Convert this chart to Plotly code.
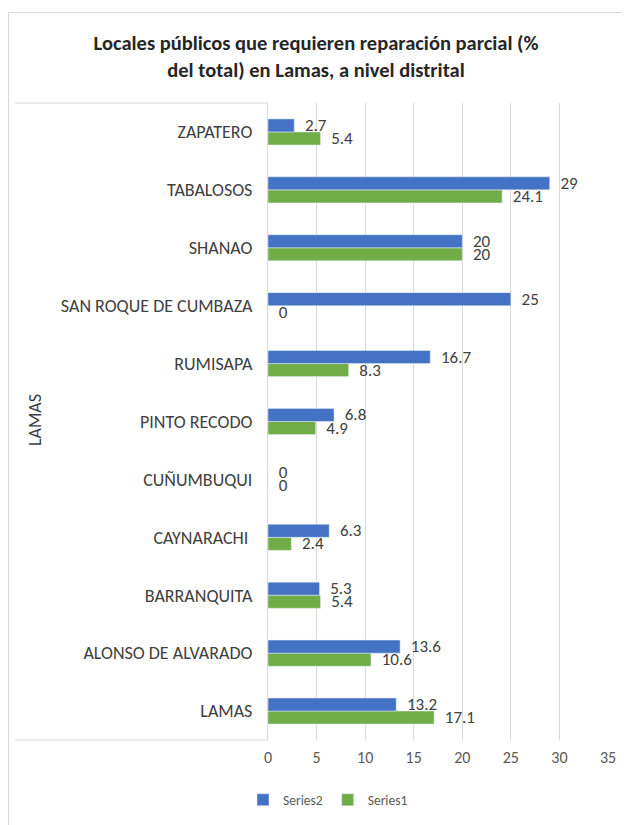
import plotly.graph_objects as go

categories = ["LAMAS", "ALONSO DE ALVARADO", "BARRANQUITA", "CAYNARACHI ", "CUÑUMBUQUI",
              "PINTO RECODO", "RUMISAPA", "SAN ROQUE DE CUMBAZA", "SHANAO", "TABALOSOS", "ZAPATERO"]
series1 = [17.1, 10.6, 5.4, 2.4, 0, 4.9, 8.3, 0, 20, 24.1, 5.4]
series2 = [13.2, 13.6, 5.3, 6.3, 0, 6.8, 16.7, 25, 20, 29, 2.7]
x_ticks = [0, 5, 10, 15, 20, 25, 30, 35]

OFF = 8  # page body margin
W, H = 630 - OFF, 825 - OFF
L, R, T, B = 268 - OFF, 22, 103 - OFF, 825 - 740
PW, PH = W - L - R, H - T - B

def px(x):
    return (x - OFF - L) / PW

def py(y):
    return (H - B - (y - OFF)) / PH

def cx(x):
    return (x - OFF) / W

def cy(y):
    return 1 - (y - OFF) / H

FONT = "Calibri, Carlito, Lato, sans-serif"
PAD = "\u00a0\u00a0"

fig = go.Figure()
fig.add_trace(go.Bar(
    y=categories, x=series1, name="Series1", orientation="h",
    marker=dict(color="#70AD47"),
    text=[PAD + f"{v:g}" for v in series1], textposition="outside", cliponaxis=False,
    textfont=dict(size=17, color="#404040", family=FONT),
))
fig.add_trace(go.Bar(
    y=categories, x=series2, name="Series2", orientation="h",
    marker=dict(color="#4472C4"),
    text=[PAD + f"{v:g}" for v in series2], textposition="outside", cliponaxis=False,
    textfont=dict(size=17, color="#404040", family=FONT),
))

fig.update_layout(
    width=W, height=H,
    margin=dict(l=L, r=R, t=T, b=B, autoexpand=False),
    paper_bgcolor="white", plot_bgcolor="white",
    barmode="group", bargap=0.55, bargroupgap=0,
    font=dict(family=FONT, color="#595959", size=16),
    uniformtext=dict(minsize=17, mode="show"),
    title=dict(
        text="<b>Locales públicos que requieren reparación parcial (%<br>del total) en Lamas, a nivel distrital</b>",
        x=cx(316), xref="container", xanchor="center",
        y=cy(50), yref="container", yanchor="middle",
        font=dict(size=20.5, color="#262626", family=FONT),
    ),
    xaxis=dict(
        range=[0, 35], tickvals=x_ticks, showgrid=True, gridcolor="#D9D9D9", gridwidth=1,
        zeroline=False, showline=False, ticks="", tickfont=dict(size=16, color="#595959"),
        fixedrange=True, ticklabelstandoff=6,
    ),
    yaxis=dict(
        type="category", categoryorder="array", categoryarray=categories,
        showline=True, linecolor="#D9D9D9", linewidth=1, ticks="", showgrid=False,
        tickfont=dict(size=18, color="#404040"), ticklabelstandoff=11,
    ),
    legend=dict(
        orientation="h", x=cx(328), xref="container", xanchor="center",
        y=cy(800), yref="container", yanchor="middle",
        traceorder="reversed", font=dict(size=13.5, color="#595959"),
        itemwidth=30,
    ),
    showlegend=True,
)

# Category group label and dividers
fig.add_annotation(text="LAMAS", textangle=-90, x=px(35), y=py(420), xref="paper", yref="paper",
                   xanchor="center", yanchor="middle",
                   showarrow=False, font=dict(size=18, color="#404040"))
for yy in (103, 740):
    fig.add_shape(type="line", xref="paper", yref="paper", x0=px(15), x1=px(268), y0=py(yy), y1=py(yy),
                  line=dict(color="#D9D9D9", width=1))
# chart border
fig.add_shape(type="rect", xref="paper", yref="paper", x0=px(8.5), x1=px(640), y0=py(12.5), y1=py(840),
              line=dict(color="#D9D9D9", width=1), fillcolor="rgba(0,0,0,0)", layer="below")

fig.write_html("out.html")
